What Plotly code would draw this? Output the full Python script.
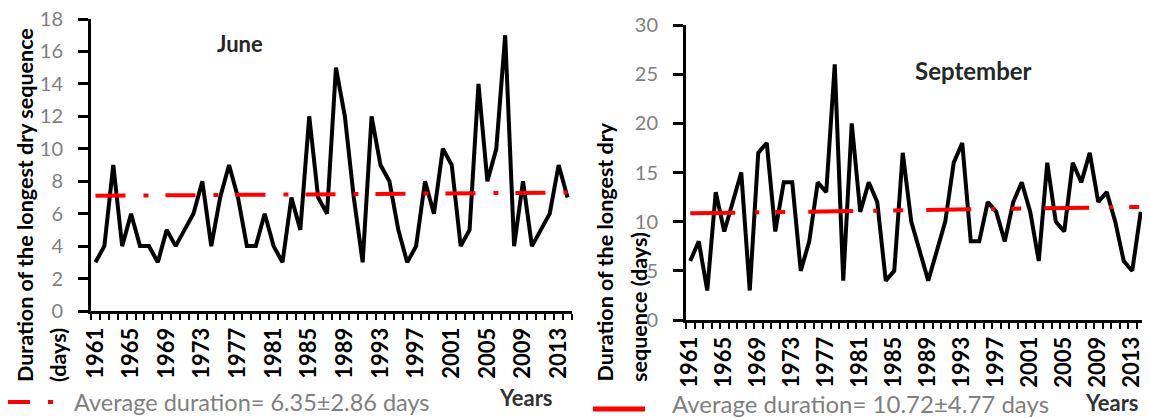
import plotly.graph_objects as go

# page body has an 8px margin: the figure is drawn from (8, 8)
OFF = 8
W, H = 1150 - OFF, 418 - OFF

years = list(range(1961, 2015))
june = [3, 4, 9, 4, 6, 4, 4, 3, 5, 4,
        5, 6, 8, 4, 7, 9, 7, 4, 4, 6,
        4, 3, 7, 5, 12, 7, 6, 15, 12, 7,
        3, 12, 9, 8, 5, 3, 4, 8, 6, 10,
        9, 4, 5, 14, 8, 10, 17, 4, 8, 4,
        5, 6, 9, 7]
september = [6, 8, 3, 13, 9, 12, 15, 3, 17, 18,
             9, 14, 14, 5, 8, 14, 13, 26, 4, 20,
             11, 14, 12, 4, 5, 17, 10, 7, 4, 7,
             10, 16, 18, 8, 8, 12, 11, 8, 12, 14,
             11, 6, 16, 10, 9, 16, 14, 17, 12, 13,
             10, 6, 5, 11]
avg_years = [1961, 2014]
june_avg_line = [7.1, 7.3]
sept_avg_line = [10.85, 11.5]
label_years = list(range(1961, 2014, 4))
june_yticks = list(range(0, 19, 2))
sept_yticks = list(range(0, 31, 5))
june_title = "June"
sept_title = "September"
june_legend = "Average duration= 6.35±2.86 days"
sept_legend = "Average duration= 10.72±4.77 days"
ytitle_left = ["Duration of the longest dry sequence", "(days)"]
ytitle_right = ["Duration of the longest dry", "sequence (days)"]
xtitle = "Years"

FONT = "Lato"
RED = "#ff0000"
GRAY = "#7f7f7f"

def px(x):
    return (x - OFF) / W

def py(y):
    return 1 - (y - OFF) / H

fig = go.Figure()
fig.add_trace(go.Scatter(x=years, y=june, mode="lines", line=dict(color="black", width=4),
                         xaxis="x", yaxis="y", showlegend=False))
fig.add_trace(go.Scatter(x=avg_years, y=june_avg_line, mode="lines",
                         line=dict(color=RED, width=4, dash="30px,18px,5px,17px"),
                         xaxis="x", yaxis="y", showlegend=False))
fig.add_trace(go.Scatter(x=years, y=september, mode="lines", line=dict(color="black", width=4),
                         xaxis="x2", yaxis="y2", showlegend=False))
fig.add_trace(go.Scatter(x=avg_years, y=sept_avg_line, mode="lines",
                         line=dict(color=RED, width=4, dash="45px,20px,4px,16px,10px,23px"),
                         xaxis="x2", yaxis="y2", showlegend=False))

def xaxis_cfg(domain, anchor):
    return dict(domain=domain, anchor=anchor, range=[1960.5, 2014.5], automargin=False,
                tickmode="array", tickvals=label_years, ticktext=[str(v) for v in label_years],
                tickangle=-90, ticks="outside", ticklen=0, tickwidth=2,
                tickfont=dict(family=FONT, size=22, color="black", weight="bold"),
                showline=True, linecolor="black", linewidth=3, showgrid=False, zeroline=False,
                minor=dict(tickmode="linear", tick0=1960.5, dtick=1, ticks="outside",
                           ticklen=6, tickwidth=2, tickcolor="black", showgrid=False),
                ticklabelstandoff=5, ticklabeloverflow="allow")

def yaxis_cfg(domain, anchor, rng, tv):
    return dict(domain=domain, anchor=anchor, range=rng, tickmode="array", tickvals=tv,
                automargin=False,
                ticks="outside", ticklen=10, tickwidth=2.5, tickcolor="black",
                tickfont=dict(family=FONT, size=20, color=GRAY),
                showline=True, linecolor="black", linewidth=3, showgrid=False, zeroline=False,
                ticklabelstandoff=11, ticklabeloverflow="allow")

fig.update_layout(
    width=W, height=H, margin=dict(l=0, r=0, t=0, b=0, autoexpand=False),
    paper_bgcolor="white", plot_bgcolor="white",
    xaxis=xaxis_cfg([px(91), px(572)], "y"),
    yaxis=yaxis_cfg([py(311), py(19)], "x", [0, 18], june_yticks),
    xaxis2=xaxis_cfg([px(686), px(1145)], "y2"),
    yaxis2=yaxis_cfg([py(320), py(25)], "x2", [0, 30], sept_yticks),
)

ann = []
def add_text(text, x, y, size, color, bold=False, xanchor="center", yanchor="middle", angle=0):
    ann.append(dict(text=text, x=px(x), y=py(y), xref="paper", yref="paper", showarrow=False,
                    xanchor=xanchor, yanchor=yanchor, textangle=angle,
                    font=dict(family=FONT, size=size, color=color, weight="bold" if bold else "normal")))

add_text(june_title, 240, 44, 22, "#262626", bold=True)
add_text(sept_title, 973, 70, 24, "#262626", bold=True)
add_text(ytitle_left[0], 25, 384, 21.5, "black", bold=True, yanchor="bottom", angle=-90)
add_text(ytitle_left[1], 58, 384, 21.5, "black", bold=True, yanchor="bottom", angle=-90)
add_text(ytitle_right[0], 604, 384, 21.5, "black", bold=True, yanchor="bottom", angle=-90)
add_text(ytitle_right[1], 639, 384, 21.5, "black", bold=True, yanchor="bottom", angle=-90)
add_text(june_legend, 72, 402, 23.5, GRAY, xanchor="left")
add_text(sept_legend, 670, 403, 24, GRAY, xanchor="left")
add_text(xtitle, 526, 397, 22, "#333333", bold=True)
add_text(xtitle, 1112, 402, 22, "#333333", bold=True)

shapes = [
    dict(type="line", xref="paper", yref="paper", x0=px(8), x1=px(60), y0=py(402), y1=py(402),
         line=dict(color=RED, width=4, dash="22px,18px,5px,17px")),
    dict(type="line", xref="paper", yref="paper", x0=px(593), x1=px(645), y0=py(409), y1=py(409),
         line=dict(color=RED, width=5)),
]
fig.update_layout(annotations=ann, shapes=shapes)

fig.write_html("out.html")
